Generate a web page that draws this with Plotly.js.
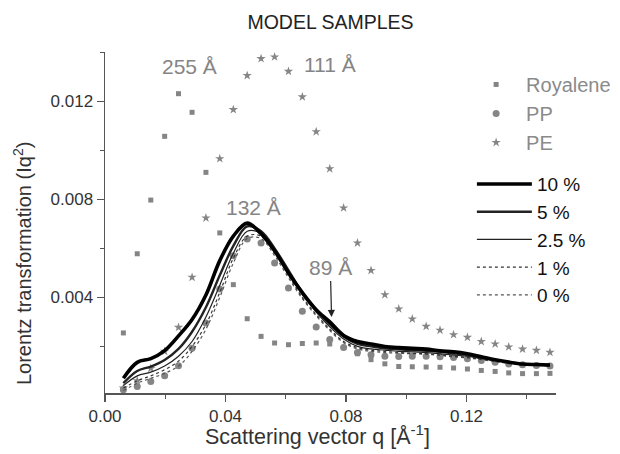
<!DOCTYPE html>
<html>
<head>
<meta charset="utf-8">
<script src="https://cdn.plot.ly/plotly-3.0.1.min.js"></script>
<style>html,body{margin:0;padding:0;background:#fff;}#chart{width:620px;height:454px;}</style>
</head>
<body>
<div id="chart"></div>
<script>
// Scattering vector q grid [1/Å]
const q = [0.0061,0.0107,0.0152,0.0198,0.0244,0.0289,0.0335,0.0381,0.0426,0.0472,0.0518,0.0563,0.0609,0.0655,0.0701,0.0746,0.0792,0.0838,0.0883,0.0929,0.0975,0.1020,0.1066,0.1112,0.1157,0.1203,0.1249,0.1295,0.1340,0.1386,0.1432,0.1477];

// Model samples (markers)
const royalene = [0.00255,0.00578,0.00797,0.01057,0.01231,0.01155,0.00910,0.00663,0.00452,0.00313,0.00241,0.00214,0.00207,0.00212,0.00214,0.00210,0.00196,0.00170,0.00146,0.00129,0.00118,0.00117,0.00116,0.00115,0.00112,0.00108,0.00102,0.00098,0.00092,0.00089,0.00089,0.00090];
const pp = [0.00023,0.00037,0.00057,0.00080,0.00121,0.00193,0.00296,0.00434,0.00570,0.00638,0.00622,0.00540,0.00438,0.00343,0.00279,0.00228,0.00196,0.00175,0.00166,0.00160,0.00159,0.00160,0.00160,0.00158,0.00155,0.00150,0.00143,0.00135,0.00128,0.00125,0.00122,0.00120];
const pe = [0.00030,0.00060,0.00110,0.00180,0.00278,0.00482,0.00724,0.00966,0.01166,0.01305,0.01374,0.01381,0.01322,0.01218,0.01076,0.00925,0.00765,0.00622,0.00510,0.00411,0.00353,0.00312,0.00282,0.00266,0.00248,0.00237,0.00220,0.00210,0.00198,0.00189,0.00184,0.00176];

// Blends (lines)
const c10 = [0.00070,0.00135,0.00150,0.00183,0.00243,0.00310,0.00410,0.00550,0.00650,0.00703,0.00660,0.00590,0.00500,0.00420,0.00350,0.00300,0.00245,0.00220,0.00210,0.00200,0.00195,0.00192,0.00189,0.00182,0.00178,0.00170,0.00158,0.00146,0.00136,0.00128,0.00126,0.00124];
const c5 = [0.00050,0.00100,0.00118,0.00145,0.00190,0.00260,0.00360,0.00490,0.00610,0.00690,0.00670,0.00600,0.00510,0.00420,0.00350,0.00290,0.00240,0.00210,0.00200,0.00192,0.00188,0.00185,0.00182,0.00178,0.00172,0.00165,0.00155,0.00145,0.00136,0.00128,0.00125,0.00123];
const c25 = [0.00040,0.00080,0.00095,0.00120,0.00160,0.00220,0.00320,0.00450,0.00580,0.00670,0.00660,0.00590,0.00500,0.00410,0.00340,0.00280,0.00230,0.00200,0.00190,0.00185,0.00180,0.00178,0.00175,0.00170,0.00165,0.00160,0.00150,0.00142,0.00135,0.00128,0.00125,0.00122];
const c1 = [0.00030,0.00060,0.00080,0.00105,0.00140,0.00200,0.00290,0.00420,0.00560,0.00650,0.00650,0.00580,0.00490,0.00400,0.00330,0.00270,0.00220,0.00195,0.00185,0.00180,0.00175,0.00172,0.00170,0.00165,0.00160,0.00155,0.00148,0.00140,0.00133,0.00127,0.00124,0.00121];
const c0 = [0.00020,0.00050,0.00070,0.00090,0.00120,0.00180,0.00270,0.00400,0.00540,0.00640,0.00640,0.00570,0.00480,0.00395,0.00325,0.00265,0.00215,0.00190,0.00180,0.00175,0.00172,0.00170,0.00168,0.00163,0.00158,0.00153,0.00146,0.00138,0.00131,0.00126,0.00123,0.00120];

const markerNames = ['Royalene','PP','PE'];
const lineNames = ['10 %','5 %','2.5 %','1 %','0 %'];
const peakLabels = ['255 Å','111 Å','132 Å','89 Å'];
const peakLabelQ = [0.0282,0.0747,0.0494,0.0748];
const peakLabelV = [0.01340,0.01350,0.00765,0.00520];
const xTitle = 'Scattering vector q [Å<sup>-1</sup>]';
const yTitle = 'Lorentz transformation (Iq<sup>2</sup>)';

const gray = '#858585';
const traces = [
  {x:q, y:royalene, name:markerNames[0], mode:'markers', legend:'legend', marker:{symbol:'square', size:5, color:gray}},
  {x:q, y:pp, name:markerNames[1], mode:'markers', legend:'legend', marker:{symbol:'circle', size:7, color:gray}},
  {x:q, y:pe, name:markerNames[2], mode:'markers', legend:'legend', marker:{symbol:'star', size:7, color:gray}},
  {x:q, y:c0, name:lineNames[4], mode:'lines', legend:'legend2', line:{color:'#555', width:1.2, dash:'dot', shape:'spline'}},
  {x:q, y:c1, name:lineNames[3], mode:'lines', legend:'legend2', line:{color:'#333', width:1.2, dash:'dot', shape:'spline'}},
  {x:q, y:c25, name:lineNames[2], mode:'lines', legend:'legend2', line:{color:'#222', width:1.2, shape:'spline'}},
  {x:q, y:c5, name:lineNames[1], mode:'lines', legend:'legend2', line:{color:'#222', width:2.4, shape:'spline'}},
  {x:q, y:c10, name:lineNames[0], mode:'lines', legend:'legend2', line:{color:'#000', width:3.6, shape:'spline'}}
];

const font = 'Arial, "Liberation Sans", sans-serif';
const layout = {
  width:620, height:454,
  margin:{l:105, r:64, t:52, b:61, autoexpand:false},
  paper_bgcolor:'#fff', plot_bgcolor:'#fff',
  font:{family:font, color:'#333'},
  title:{text:'MODEL SAMPLES', x:0.5, xref:'paper', xanchor:'center', y:0.952, yanchor:'middle', font:{size:19.5, color:'#222', family:font}},
  xaxis:{
    range:[0, 0.1497], showgrid:false, zeroline:false, automargin:false,
    showline:true, linecolor:'#555', linewidth:1.5,
    ticks:'outside', ticklen:7, tickwidth:1.3, tickcolor:'#555',
    tick0:0, dtick:0.04, tickformat:'.2f',
    tickfont:{size:17, color:'#333'},
    minor:{dtick:0.02, tick0:0, ticks:'outside', ticklen:4, tickcolor:'#555', showgrid:false}
  },
  yaxis:{
    range:[0.0001, 0.01401], showgrid:false, zeroline:false, automargin:false,
    showline:true, linecolor:'#555', linewidth:1.5,
    ticks:'outside', ticklen:7, tickwidth:1.3, tickcolor:'#555',
    tick0:0, dtick:0.004, tickformat:'.3f',
    tickfont:{size:17, color:'#333'},
    minor:{dtick:0.002, tick0:0, ticks:'outside', ticklen:4, tickcolor:'#555', showgrid:false}
  },
  legend:{
    x:0.8007, y:0.962, xanchor:'left', yanchor:'top', xref:'paper', yref:'paper',
    bgcolor:'rgba(0,0,0,0)', borderwidth:0,
    font:{size:20, color:'#8a8a8a', family:font}, traceorder:'normal', itemwidth:50
  },
  legend2:{
    x:0.8135, y:0.668, xanchor:'left', yanchor:'top', xref:'paper', yref:'paper',
    bgcolor:'rgba(0,0,0,0)', borderwidth:0,
    font:{size:19, color:'#111', family:font}, traceorder:'reversed', itemwidth:55
  },
  annotations:[
    {x:peakLabelQ[0], y:peakLabelV[0], xref:'x', yref:'y', text:peakLabels[0], showarrow:false, font:{size:21, color:gray}},
    {x:peakLabelQ[1], y:peakLabelV[1], xref:'x', yref:'y', text:peakLabels[1], showarrow:false, font:{size:21, color:gray}},
    {x:peakLabelQ[2], y:peakLabelV[2], xref:'x', yref:'y', text:peakLabels[2], showarrow:false, font:{size:21, color:gray}},
    {x:0.0752, y:0.00320, xref:'x', yref:'y', ax:peakLabelQ[3], ay:peakLabelV[3], axref:'x', ayref:'y',
     text:peakLabels[3], font:{size:21, color:gray}, showarrow:true, arrowhead:2, arrowsize:1.2, arrowwidth:1.2, arrowcolor:'#222', standoff:0, startstandoff:0},
    {x:0.471, y:-0.123, xref:'paper', yref:'paper', xanchor:'center', yanchor:'middle', text:xTitle, showarrow:false, font:{size:21.5, color:'#333'}},
    {x:-0.184, y:0.378, xref:'paper', yref:'paper', xanchor:'center', yanchor:'middle', textangle:-90, text:yTitle, showarrow:false, font:{size:20, color:'#333'}}
  ],
  showlegend:true
};

Plotly.newPlot('chart', traces, layout, {staticPlot:true, displayModeBar:false});
</script>
</body>
</html>
